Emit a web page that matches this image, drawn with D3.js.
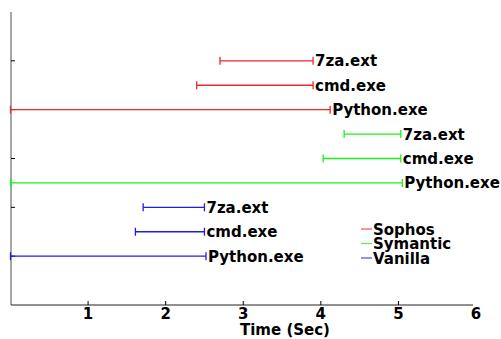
<!DOCTYPE html>
<html>
<head>
<meta charset="utf-8">
<script src="https://cdn.jsdelivr.net/npm/d3@7"></script>
<style>
  body { margin: 0; background: #fff; }
  text { font-family: "DejaVu Sans", sans-serif; font-weight: bold; }
</style>
</head>
<body>
<div id="chart"></div>
<script>
var groups = ["Sophos", "Symantic", "Vanilla"];
var programs = ["7za.ext", "cmd.exe", "Python.exe"];
var startTimes = [[2.70, 2.40, 0.0], [4.30, 4.03, 0.0], [1.71, 1.61, 0.0]];
var endTimes = [[3.90, 3.90, 4.12], [5.03, 5.03, 5.05], [2.50, 2.50, 2.52]];
var xTicks = [1, 2, 3, 4, 5, 6];
var colors = ["#e8292d", "#1cf01c", "#1c1cf0"];

var svg = d3.select("#chart").append("svg").attr("width", 501).attr("height", 339);

// x scale in seconds, y scale in row units (rows at 10..2, step 1)
var x = d3.scaleLinear().domain([0, 6]).range([10.5, 476]);
var y = d3.scaleLinear().domain([0, 12]).range([305, 12]);

var rows = [];
groups.forEach(function (g, gi) {
    programs.forEach(function (p, pi) {
        rows.push({ group: gi, name: p, s: startTimes[gi][pi], e: endTimes[gi][pi], pos: 10 - (gi * 3 + pi) });
    });
});

// axes
svg.append("line").attr("x1", 11).attr("x2", 11).attr("y1", 12).attr("y2", 305)
    .attr("stroke", "#888").attr("stroke-width", 1.5);
svg.append("line").attr("x1", 11).attr("x2", 473).attr("y1", 305).attr("y2", 305)
    .attr("stroke", "#222").attr("stroke-width", 1.2);

svg.selectAll(".ytick").data([2, 4, 6, 8, 10]).enter().append("line")
    .attr("x1", 11).attr("x2", 15)
    .attr("y1", function (d) { return y(d); }).attr("y2", function (d) { return y(d); })
    .attr("stroke", "#000").attr("stroke-width", 1);

svg.selectAll(".xtick").data(xTicks.slice(0, 5)).enter().append("line")
    .attr("x1", function (d) { return x(d); }).attr("x2", function (d) { return x(d); })
    .attr("y1", 301).attr("y2", 305)
    .attr("stroke", "#000").attr("stroke-width", 1);

svg.selectAll(".xlabel").data(xTicks).enter().append("text")
    .attr("x", function (d) { return x(d); }).attr("y", 319)
    .attr("text-anchor", "middle").attr("font-size", 15)
    .text(function (d) { return d; });

svg.append("text").attr("x", 285).attr("y", 335).attr("text-anchor", "middle")
    .attr("font-size", 15).text("Time (Sec)");

// ranges
var bars = svg.selectAll(".bar").data(rows).enter().append("g")
    .attr("stroke", function (d) { return colors[d.group]; })
    .attr("stroke-width", 1.3);

bars.append("line")
    .attr("x1", function (d) { return x(d.s); }).attr("x2", function (d) { return x(d.e); })
    .attr("y1", function (d) { return y(d.pos); }).attr("y2", function (d) { return y(d.pos); });
bars.append("line")
    .attr("x1", function (d) { return x(d.s); }).attr("x2", function (d) { return x(d.s); })
    .attr("y1", function (d) { return y(d.pos) - 4; }).attr("y2", function (d) { return y(d.pos) + 4; });
bars.append("line")
    .attr("x1", function (d) { return x(d.e); }).attr("x2", function (d) { return x(d.e); })
    .attr("y1", function (d) { return y(d.pos) - 4; }).attr("y2", function (d) { return y(d.pos) + 4; });

svg.selectAll(".label").data(rows).enter().append("text")
    .attr("x", function (d) { return x(d.e) + 2; })
    .attr("y", function (d) { return y(d.pos) + 5.5; })
    .attr("font-size", 15).attr("fill", "#000")
    .text(function (d) { return d.name; });

// legend
var legend = svg.selectAll(".legend").data(groups).enter().append("g")
    .attr("transform", function (d, i) { return "translate(361," + (229 + i * 14.5) + ")"; });
legend.append("line").attr("x1", 0).attr("x2", 11).attr("y1", 0).attr("y2", 0)
    .attr("stroke", function (d, i) { return colors[i]; }).attr("stroke-opacity", 0.75).attr("stroke-width", 1.3);
legend.append("text").attr("x", 12).attr("y", 5.5).attr("font-size", 15).text(function (d) { return d; });
</script>
</body>
</html>
